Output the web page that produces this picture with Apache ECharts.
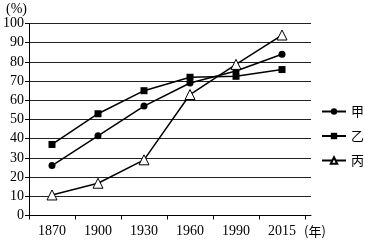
<!DOCTYPE html>
<html><head><meta charset="utf-8">
<script src="https://cdn.jsdelivr.net/npm/echarts@6/dist/echarts.min.js"></script>
<style>html,body{margin:0;padding:0;background:#fff}#c{width:365px;height:252px}</style>
</head><body><div id="c"></div>
<script>
const categories = ['1870','1900','1930','1960','1990','2015'];
const seriesNames = ['甲','乙','丙'];
const jia = [26, 41.5, 57, 69, 75.3, 84];
const yi = [37, 53, 65, 72, 72.5, 76];
const bing = [10.7, 16.8, 29, 63, 78.7, 94];
const yTicks = [0,10,20,30,40,50,60,70,80,90,100];

const serif = '"Liberation Serif", "Noto Sans CJK SC", serif';
const toPts = arr => arr.map((v,i)=>[i+0.5, v]);
const chart = echarts.init(document.getElementById('c'), null, {renderer:'canvas'});
chart.setOption({
  animation:false,
  backgroundColor:'#fff',
  grid:{left:29, right:54, top:23.5, bottom:36.5, containLabel:false},
  legend:{
    orient:'vertical', left:321, top:105, padding:0, itemWidth:24, itemHeight:8, itemGap:11.5,
    textStyle:{fontFamily:'"Noto Sans CJK SC", serif', fontSize:13, color:'#000'},
    data:seriesNames
  },
  xAxis:{
    type:'value', min:0, max:6.13,
    axisLine:{lineStyle:{color:'#000', width:1}},
    axisTick:{show:true, length:4, lineStyle:{color:'#000'}, customValues:[0,1,2,3,4,5,6]},
    axisLabel:{fontFamily:serif, fontSize:14, color:'#000', margin:9,
      customValues:categories.map((c,i)=>i+0.5),
      formatter:v=>categories[Math.round(v-0.5)] ?? ''},
    splitLine:{show:false}
  },
  yAxis:{
    type:'value', min:0, max:100, interval:10,
    axisLine:{show:true, lineStyle:{color:'#000', width:1}},
    axisTick:{show:true, length:4, lineStyle:{color:'#000'}},
    axisLabel:{fontFamily:serif, fontSize:14, color:'#000', margin:5,
      formatter:v=>yTicks.includes(v)?String(v):''},
    splitLine:{show:true, lineStyle:{color:'#222', width:1}}
  },
  graphic:[
    {type:'text', left:6, top:2, style:{text:'(%)', fontFamily:serif, fontSize:14, fill:'#000'}},
    {type:'text', left:304, top:225, style:{text:'(年)', fontFamily:'"Noto Sans CJK SC", serif', fontSize:13, fill:'#000'}}
  ],
  series:[
    {name:seriesNames[0], type:'line', data:toPts(jia), symbol:'circle', symbolSize:7,
      lineStyle:{color:'#000', width:1.5}, itemStyle:{color:'#000'}},
    {name:seriesNames[1], type:'line', data:toPts(yi), symbol:'rect', symbolSize:7,
      lineStyle:{color:'#000', width:1.5}, itemStyle:{color:'#000'}},
    {name:seriesNames[2], type:'line', data:toPts(bing), symbol:'triangle', symbolSize:10,
      lineStyle:{color:'#000', width:1.5}, itemStyle:{color:'#fff', borderColor:'#000', borderWidth:1}}
  ]
});
</script></body></html>
